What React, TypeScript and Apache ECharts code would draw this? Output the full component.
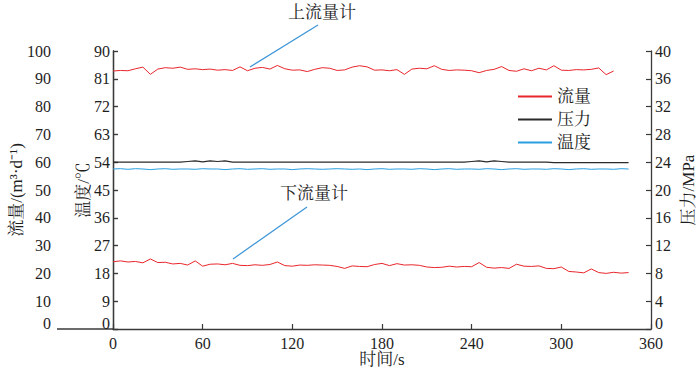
import React, { useEffect, useRef } from "react";
import * as echarts from "echarts";

// sample times (s)
const sampleTimes = [
  0, 5, 10, 15, 20, 25, 30, 35, 40, 45, 50, 55, 60, 65, 70, 75, 80, 85, 90, 95,
  100, 105, 110, 115, 120, 125, 130, 135, 140, 145, 150, 155, 160, 165, 170, 175,
  180, 185, 190, 195, 200, 205, 210, 215, 220, 225, 230, 235, 240, 245, 250, 255,
  260, 265, 270, 275, 280, 285, 290, 295, 300, 305, 310, 315, 320, 325, 330, 335,
  340, 345,
];

// 上流量计 (m3/d), 0..335 s
const upperFlow = [
  92.8, 93.0, 92.9, 93.6, 94.2, 91.6, 93.5, 94.0, 93.8, 94.2, 93.4, 93.6, 93.3,
  93.5, 93.1, 93.3, 93.0, 94.3, 92.9, 93.8, 94.1, 93.5, 94.8, 93.6, 93.1, 93.2,
  92.6, 93.4, 94.0, 93.8, 93.0, 93.2, 94.2, 94.7, 94.3, 93.1, 93.2, 92.9, 93.3,
  91.6, 93.5, 93.8, 93.6, 94.7, 93.4, 93.0, 93.2, 93.1, 92.9, 92.2, 93.0, 93.4,
  94.4, 93.0, 92.7, 93.6, 92.9, 93.8, 93.2, 94.7, 93.1, 93.0, 93.3, 93.2, 93.4,
  93.9, 91.5, 92.8,
];

// 下流量计 (m3/d), 0..345 s
const lowerFlow = [
  24.2, 24.5, 24.1, 24.3, 23.8, 25.2, 23.9, 24.0, 23.4, 23.6, 23.0, 24.5, 22.6,
  23.3, 23.4, 23.1, 23.6, 22.9, 22.8, 23.1, 22.9, 23.2, 24.1, 22.8, 22.6, 23.0,
  22.9, 23.1, 23.0, 22.9, 22.5, 21.8, 22.7, 22.5, 22.4, 23.2, 23.6, 22.8, 23.5,
  23.0, 23.1, 22.9, 22.3, 22.1, 22.2, 22.6, 22.3, 22.5, 22.4, 23.9, 22.2, 21.9,
  22.1, 21.8, 23.3, 22.6, 22.5, 22.7, 21.8, 21.7, 22.3, 20.7, 20.5, 20.2, 21.6,
  20.3, 20.0, 20.4, 20.1, 20.3,
];

// 压力 (MPa), 0..345 s
const pressure = [
  24.0, 24.0, 24.0, 24.0, 24.0, 24.0, 24.0, 24.0, 24.0, 24.0, 24.1, 24.2, 24.05,
  24.2, 24.1, 24.2, 24.0, 24.0, 24.0, 24.0, 24.0, 24.0, 24.0, 24.0, 24.0, 24.0,
  24.0, 24.0, 24.0, 24.0, 24.0, 24.0, 24.0, 24.0, 24.0, 24.0, 24.0, 24.0, 24.0,
  24.0, 24.0, 24.0, 24.0, 24.0, 24.0, 24.0, 24.0, 24.0, 24.1, 24.2, 24.05, 24.2,
  24.1, 24.0, 24.0, 24.0, 24.0, 24.0, 24.0, 23.95, 23.95, 23.95, 23.95, 23.95,
  23.95, 23.95, 23.95, 23.95, 23.95, 23.95,
];

// 温度 (°C), 0..345 s
const temperature = [
  51.8, 51.9, 51.7, 51.9, 51.8, 51.6, 51.8, 51.9, 51.7, 51.8, 51.8, 51.7, 51.9,
  51.8, 51.8, 51.6, 51.8, 51.9, 51.7, 51.8, 51.9, 51.7, 51.8, 51.8, 51.6, 51.8,
  51.9, 51.8, 51.7, 51.8, 51.9, 51.8, 51.7, 51.8, 51.6, 51.8, 51.9, 51.7, 51.8,
  51.8, 51.7, 51.9, 51.8, 51.6, 51.8, 51.9, 51.7, 51.8, 51.8, 51.7, 51.9, 51.8,
  51.6, 51.8, 51.9, 51.7, 51.8, 51.8, 51.7, 51.9, 51.8, 51.6, 51.8, 51.9, 51.7,
  51.8, 51.8, 51.7, 51.9, 51.8,
];

const xTicks = { min: 0, max: 360, interval: 60 };
const flowTicks = { min: 0, max: 100, interval: 10 };
const tempTicks = { min: 0, max: 90, interval: 9 };
const pressTicks = { min: 0, max: 40, interval: 4 };

const FONT =
  "'Times New Roman', 'Liberation Serif', 'Noto Serif CJK SC', 'Noto Sans CJK SC', serif";
const AXIS_COLOR = "#3a3a3a";
const TEXT_COLOR = "#1e1e1e";
const RED = "#e8262b";
const BLACK = "#2b2b2b";
const BLUE = "#2a9ee0";

const pair = (ys: number[]) => ys.map((v, i) => [sampleTimes[i], v]);

const axisCommon = {
  axisLine: { show: true, lineStyle: { color: AXIS_COLOR, width: 1.3 } },
  axisTick: { show: true, inside: true, length: 5, lineStyle: { color: AXIS_COLOR, width: 1.2 } },
  splitLine: { show: false },
  nameMoveOverlap: false,
  nameTextStyle: { fontFamily: FONT, fontSize: 17, color: TEXT_COLOR },
};

// y-axis labels: the "0" sits a little above the bottom axis line
const yLabel = (margin: number) => ({
  margin,
  fontFamily: FONT,
  fontSize: 16,
  color: TEXT_COLOR,
  formatter: (v: number) => (v === 0 ? "{z|0}" : String(v)),
  rich: {
    z: { fontFamily: FONT, fontSize: 16, color: TEXT_COLOR, padding: [0, 0, 11, 0] },
  },
});

export default function App() {
  const ref = useRef<HTMLDivElement>(null);
  useEffect(() => {
    if (!ref.current) return;
    const chart = echarts.init(ref.current, undefined, { renderer: "svg" });
    chart.setOption({
      animation: false,
      backgroundColor: "#ffffff",
      grid: {
        left: 113,
        right: 49,
        top: 51,
        bottom: 44,
        containLabel: false,
        outerBoundsMode: "none",
      },
      legend: {
        data: ["流量", "压力", "温度"],
        orient: "vertical",
        left: 513,
        top: 83,
        icon: "rect",
        itemWidth: 34,
        itemHeight: 2,
        itemGap: 6,
        textStyle: { fontFamily: FONT, fontSize: 17, color: TEXT_COLOR },
      },
      xAxis: {
        type: "value",
        ...xTicks,
        ...axisCommon,
        axisLabel: { margin: 6, fontFamily: FONT, fontSize: 16, color: TEXT_COLOR },
        name: "时间/s",
        nameLocation: "middle",
        nameGap: 22,
      },
      yAxis: [
        {
          type: "value",
          position: "left",
          offset: 56,
          ...flowTicks,
          ...axisCommon,
          axisLabel: yLabel(6),
          name: "流量/(m³·d⁻¹)",
          nameLocation: "middle",
          nameRotate: 90,
          nameGap: 32,
        },
        {
          type: "value",
          position: "left",
          offset: 0,
          ...tempTicks,
          ...axisCommon,
          axisLabel: yLabel(3),
          name: "温度/℃",
          nameLocation: "middle",
          nameRotate: 90,
          nameGap: 21,
        },
        {
          type: "value",
          position: "right",
          ...pressTicks,
          ...axisCommon,
          axisLabel: yLabel(4),
          name: "压力/MPa",
          nameLocation: "middle",
          nameRotate: 90,
          nameGap: 29,
        },
      ],
      series: [
        {
          name: "流量",
          type: "line",
          yAxisIndex: 0,
          data: pair(upperFlow),
          showSymbol: false,
          lineStyle: { color: RED, width: 1 },
          itemStyle: { color: RED },
        },
        {
          name: "流量",
          type: "line",
          yAxisIndex: 0,
          data: pair(lowerFlow),
          showSymbol: false,
          lineStyle: { color: RED, width: 1 },
          itemStyle: { color: RED },
        },
        {
          name: "压力",
          type: "line",
          yAxisIndex: 2,
          data: pair(pressure),
          showSymbol: false,
          lineStyle: { color: BLACK, width: 1.2 },
          itemStyle: { color: BLACK },
        },
        {
          name: "温度",
          type: "line",
          yAxisIndex: 1,
          data: pair(temperature),
          showSymbol: false,
          lineStyle: { color: BLUE, width: 1 },
          itemStyle: { color: BLUE },
        },
      ],
      graphic: [
        {
          type: "line",
          shape: { x1: 57, y1: 329, x2: 113, y2: 329 },
          style: { stroke: AXIS_COLOR, lineWidth: 1.3 },
        },
        {
          type: "line",
          shape: { x1: 318, y1: 25, x2: 250, y2: 67 },
          style: { stroke: "#3b95d6", lineWidth: 1.2 },
        },
        {
          type: "text",
          x: 322,
          y: 12,
          style: {
            text: "上流量计",
            fontFamily: FONT,
            fontSize: 17,
            fill: TEXT_COLOR,
            align: "center",
            verticalAlign: "middle",
          },
        },
        {
          type: "line",
          shape: { x1: 307, y1: 207, x2: 233, y2: 259 },
          style: { stroke: "#3b95d6", lineWidth: 1.2 },
        },
        {
          type: "text",
          x: 314,
          y: 193,
          style: {
            text: "下流量计",
            fontFamily: FONT,
            fontSize: 17,
            fill: TEXT_COLOR,
            align: "center",
            verticalAlign: "middle",
          },
        },
      ],
    });
    return () => chart.dispose();
  }, []);
  return (
    <div
      ref={ref}
      style={{ position: "fixed", left: 0, top: 0, width: 700, height: 373 }}
    />
  );
}
